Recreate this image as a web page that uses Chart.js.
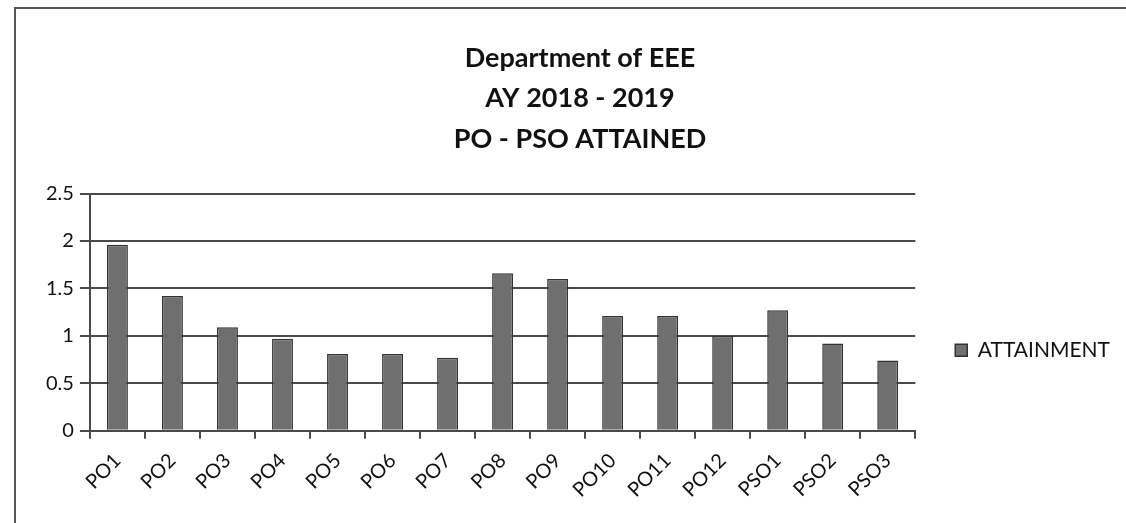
<!DOCTYPE html>
<html>
<head>
<meta charset="utf-8">
<script src="https://cdn.jsdelivr.net/npm/chart.js@4.4.1/dist/chart.umd.min.js"></script>
<style>
  html, body { margin: 0; padding: 0; background: #fff; overflow: hidden; }
  #wrap { position: relative; width: 1126px; height: 523px; }
  #frame { position: absolute; left: 14px; top: 7px; width: 1200px; height: 600px; border: 2px solid #555; box-sizing: border-box; }
  canvas { position: absolute; left: 0; top: 0; }
</style>
</head>
<body>
<div id="wrap">
  <div id="frame"></div>
  <canvas id="barChart" width="1126" height="523"></canvas>
</div>
<script>
const categories = ["PO1", "PO2", "PO3", "PO4", "PO5", "PO6", "PO7", "PO8", "PO9", "PO10", "PO11", "PO12", "PSO1", "PSO2", "PSO3"];
const attainment = [1.96, 1.42, 1.09, 0.97, 0.81, 0.81, 0.77, 1.66, 1.6, 1.21, 1.21, 1.0, 1.27, 0.92, 0.74];
const titleLines = ["Department of EEE", "AY 2018 - 2019", "PO - PSO ATTAINED"];

document.addEventListener("DOMContentLoaded", () => {
  new Chart(document.querySelector("#barChart"), {
    type: "bar",
    data: {
      labels: categories,
      datasets: [{
        label: "ATTAINMENT",
        data: attainment,
        backgroundColor: "#6f6f6f",
        borderColor: "#333",
        borderWidth: 1.5,
        barPercentage: 0.38,
        categoryPercentage: 1
      }]
    },
    options: {
      responsive: false,
      animation: false,
      layout: { padding: { left: 40, right: 6, top: 0, bottom: 11 } },
      plugins: {
        title: {
          display: true,
          text: titleLines,
          color: "#111",
          font: { family: "Lato", size: 27, weight: "bold", lineHeight: 1.5 },
          padding: { top: 38, bottom: 34 }
        },
        legend: {
          position: "right",
          // blank legend title only pushes the entry down to sit level with 1.0
          title: { display: true, text: "", font: { size: 12 }, padding: { top: 0, bottom: 174 } },
          labels: {
            color: "#111",
            font: { family: "Lato", size: 21 },
            boxWidth: 12,
            boxHeight: 12,
            padding: 40
          }
        },
        tooltip: { enabled: false }
      },
      scales: {
        y: {
          min: 0,
          max: 2.5,
          ticks: {
            stepSize: 0.5,
            color: "#111",
            font: { family: "Lato", size: 20 },
            padding: 6,
            callback: (v) => String(v)
          },
          grid: { color: "#4a4a4a", lineWidth: 2, tickLength: 10 },
          border: { color: "#4a4a4a", width: 2 }
        },
        x: {
          ticks: { color: "#111", font: { family: "Lato", size: 20 }, minRotation: 45, maxRotation: 45, padding: 10 },
          grid: { offset: true, drawOnChartArea: false, color: "#4a4a4a", lineWidth: 2, tickLength: 8 },
          border: { color: "#4a4a4a", width: 2 }
        }
      }
    }
  });
});
</script>
</body>
</html>
